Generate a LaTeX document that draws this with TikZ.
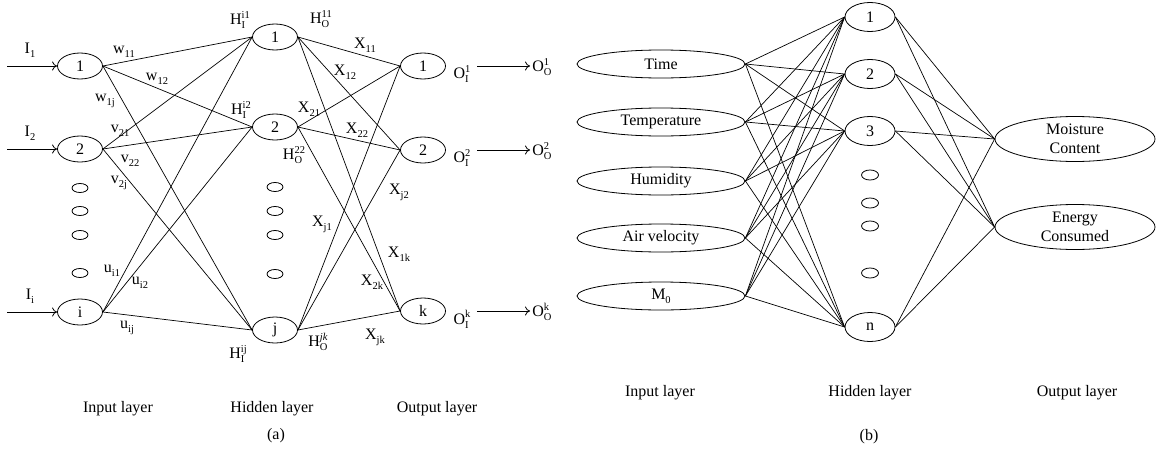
\documentclass[tikz,border=0pt]{standalone}
\usepackage{fontspec}
\setmainfont{Liberation Serif}
\usetikzlibrary{shapes.geometric,arrows.meta}
\newcommand\Sb[2]{#1\raisebox{-3.8pt}{\fontsize{10.5}{10.5}\selectfont #2}}
\newcommand\SbSp[3]{#1\begingroup\fontsize{10.5}{10.5}\selectfont
  \setbox0\hbox{#2}\setbox2\hbox{#3}%
  \ifdim\wd0>\wd2 \dimen0=\wd0 \else \dimen0=\wd2 \fi
  \rlap{\raisebox{6.8pt}{\box2}}\rlap{\raisebox{-4pt}{\box0}}\kern\dimen0\endgroup}
\begin{document}
\begin{tikzpicture}[x=1pt,y=-1pt, font=\fontsize{16}{18.5}\selectfont,
  neuron/.style={draw, ellipse, line width=0.8pt, minimum width=45pt, minimum height=26pt, inner sep=0pt},
  dotnode/.style={draw, ellipse, line width=0.8pt, minimum width=16pt, minimum height=9pt, inner sep=0pt},
  bigin/.style={draw, ellipse, line width=0.8pt, minimum width=168pt, minimum height=28pt, inner sep=0pt},
  hid/.style={draw, ellipse, line width=0.8pt, minimum width=50pt, minimum height=29pt, inner sep=0pt},
  bigout/.style={draw, ellipse, line width=0.8pt, minimum width=160pt, minimum height=45pt, inner sep=0pt, align=center},
  conn/.style={line width=0.7pt},
  arr/.style={line width=0.8pt, -{To[length=5pt,width=9pt]}},
  lbl/.style={inner sep=0pt}]

\useasboundingbox (0,0) rectangle (1156,458);

% ---------------- panel (a) ----------------
\node[neuron] (a1) at (80,66) {1};
\node[neuron] (a2) at (80,149) {2};
\node[neuron] (ai) at (80,312) {i};
\foreach \y [count=\n] in {188,211,235,273} \node[dotnode] (ad\n) at (80,\y) {};

\node[neuron] (h1) at (275,37) {1};
\node[neuron] (h2) at (275,127) {2};
\node[neuron] (hj) at (275,330) {j};
\foreach \y [count=\n] in {187,211,235,274} \node[dotnode] (hd\n) at (275,\y) {};

\node[neuron] (o1) at (423,66) {1};
\node[neuron] (o2) at (423,150) {2};
\node[neuron] (ok) at (423,311) {k};

\foreach \s in {a1,a2,ai} \foreach \t in {h1,h2,hj} \draw[conn] (\s.east) -- (\t.west);
\foreach \s in {h1,h2,hj} \foreach \t in {o1,o2,ok} \draw[conn] (\s.east) -- (\t.west);

\coordinate (s1) at (7,66);
\coordinate (s2) at (7,149);
\coordinate (si) at (7,312);
\draw[arr] (s1) -- (a1.west);
\draw[arr] (s2) -- (a2.west);
\draw[arr] (si) -- (ai.west);
\node[lbl] (lI1) at (30,50) {\Sb{I}{1}};
\node[lbl] (lI2) at (30,133) {\Sb{I}{2}};
\node[lbl] (lIi) at (30,296) {\Sb{I}{i}};

\coordinate (e1a) at (477,66);  \coordinate (e1b) at (530,66);
\coordinate (e2a) at (477,150); \coordinate (e2b) at (530,150);
\coordinate (eka) at (477,311); \coordinate (ekb) at (530,311);
\draw[arr] (e1a) -- (e1b);
\draw[arr] (e2a) -- (e2b);
\draw[arr] (eka) -- (ekb);
\node[lbl] (oi1) at (462,74) {\SbSp{O}{I}{1}};
\node[lbl] (oi2) at (462,158) {\SbSp{O}{I}{2}};
\node[lbl] (oik) at (462,319) {\SbSp{O}{I}{k}};
\node[lbl] (oo1) at (542,67) {\SbSp{O}{O}{1}};
\node[lbl] (oo2) at (542,151) {\SbSp{O}{O}{2}};
\node[lbl] (ook) at (542,312) {\SbSp{O}{O}{k}};

% weight labels
\node[lbl] (w11) at (124,52) {\Sb{w}{11}};
\node[lbl] (w12) at (157,79) {\Sb{w}{12}};
\node[lbl] (w1j) at (105,101) {\Sb{w}{1j}};
\node[lbl] (v21) at (120,131) {\Sb{v}{21}};
\node[lbl] (v22) at (130,161) {\Sb{v}{22}};
\node[lbl] (v2j) at (119,183) {\Sb{v}{2j}};
\node[lbl] (ui1) at (112,271) {\Sb{u}{i1}};
\node[lbl] (ui2) at (140,283) {\Sb{u}{i2}};
\node[lbl] (uij) at (127,328) {\Sb{u}{ij}};

\node[lbl] (Hi1) at (240,20) {\SbSp{H}{I}{i1}};
\node[lbl] (Hi2) at (241,110) {\SbSp{H}{I}{i2}};
\node[lbl] (Ho11) at (321,19) {\SbSp{H}{O}{11}};
\node[lbl] (Ho22) at (294,155) {\SbSp{H}{O}{22}};
\node[lbl] (Hij) at (238,354) {\SbSp{H}{I}{ij}};
\node[lbl] (Hojk) at (318,342) {\SbSp{H}{O}{\textit{jk}}};

\node[lbl] (x11) at (365,45) {\Sb{X}{11}};
\node[lbl] (x12) at (345,72) {\Sb{X}{12}};
\node[lbl] (x21) at (309,109) {\Sb{X}{21}};
\node[lbl] (x22) at (357,130) {\Sb{X}{22}};
\node[lbl] (xj2) at (399,192) {\Sb{X}{j2}};
\node[lbl] (xj1) at (322,224) {\Sb{X}{j1}};
\node[lbl] (x1k) at (399,254) {\Sb{X}{1k}};
\node[lbl] (x2k) at (372,282) {\Sb{X}{2k}};
\node[lbl] (xjk) at (375,337) {\Sb{X}{jk}};

\node (la1) at (118,409) {Input layer};
\node (la2) at (272,409) {Hidden layer};
\node (la3) at (437,409) {Output layer};
\node (capa) at (276,436) {(a)};

% ---------------- panel (b) ----------------
\node[bigin] (bt) at (661,64) {Time};
\node[bigin] (bT) at (661,122) {Temperature};
\node[bigin] (bh) at (661,181) {Humidity};
\node[bigin] (ba) at (661,238) {Air velocity};
\node[bigin] (bm) at (661,296) {\Sb{M}{0}};

\node[hid] (n1) at (870,17) {1};
\node[hid] (n2) at (870,74) {2};
\node[hid] (n3) at (870,131) {3};
\node[hid] (nn) at (870,327) {n};
\foreach \y [count=\n] in {175,203,226,273} \node[dotnode, minimum width=17pt, minimum height=10pt] (bd\n) at (870,\y) {};

\node[bigout] (mc) at (1075,139) {Moisture\\Content};
\node[bigout] (ec) at (1075,227) {Energy\\Consumed};

\foreach \s in {bt,bT,bh,ba,bm} \foreach \t in {n1,n2,n3,nn} \draw[conn] (\s.east) -- (\t.west);
\foreach \s in {n1,n2,n3,nn} \foreach \t in {mc,ec} \draw[conn] (\s.east) -- (\t.west);

\node (lb1) at (660,393) {Input layer};
\node (lb2) at (870,393) {Hidden layer};
\node (lb3) at (1077,393) {Output layer};
\node (capb) at (869,437) {(b)};
\end{tikzpicture}
\end{document}
